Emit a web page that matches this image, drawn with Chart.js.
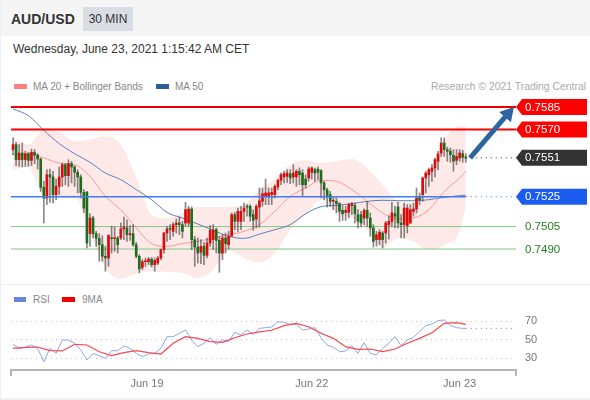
<!DOCTYPE html>
<html>
<head>
<meta charset="utf-8">
<script src="https://cdn.jsdelivr.net/npm/chart.js@4"></script>
<style>
html, body { margin: 0; padding: 0; background: #fff; }
body { width: 590px; height: 400px; position: relative; overflow: hidden; font-family: "Liberation Sans", Arial, sans-serif; }
#head { position: absolute; left: 0; top: 0; width: 590px; height: 36px; background: #f5f5f5; }
#title { position: absolute; left: 11px; top: 11px; font-size: 14px; font-weight: bold; color: #333; }
#badge { position: absolute; left: 83px; top: 7px; width: 50px; height: 24px; line-height: 24px; text-align: center; background: #d9dde4; font-size: 12px; color: #333; }
#date { position: absolute; left: 13px; top: 42px; font-size: 12px; color: #333; }
.leg { position: absolute; font-size: 10px; line-height: 12px; color: #888; }
.box { position: absolute; height: 5px; }
#sep { position: absolute; left: 0; top: 284px; width: 590px; height: 1px; background: #eee; }
#edgeL { position: absolute; left: 0; top: 0; width: 1px; height: 400px; background: #eef0f3; }
#edgeB { position: absolute; left: 0; top: 398px; width: 590px; height: 2px; background: #eef0f3; }
canvas { position: absolute; left: 0; }
#priceChart { top: 92px; }
#rsiChart { top: 310px; }
</style>
</head>
<body>
<div id="head"></div>
<div id="edgeL"></div>
<div id="edgeB"></div>
<div id="title">AUD/USD</div>
<div id="badge">30 MIN</div>
<div id="date">Wednesday, June 23, 2021 1:15:42 AM CET</div>
<div class="box" style="left:14px;top:84px;width:13px;background:#ff8080"></div>
<div class="leg" style="left:33px;top:81px">MA 20 + Bollinger Bands</div>
<div class="box" style="left:156px;top:84px;width:13px;background:#2e5c9a"></div>
<div class="leg" style="left:175px;top:81px">MA 50</div>
<div class="leg" style="right:4px;top:81px;color:#aaa;font-size:10.4px">Research © 2021 Trading Central</div>
<div id="sep"></div>
<div class="box" style="left:14px;top:297px;width:12px;background:#6a85e0"></div>
<div class="leg" style="left:33px;top:294px">RSI</div>
<div class="box" style="left:62px;top:297px;width:13px;background:#f00000"></div>
<div class="leg" style="left:82px;top:294px">9MA</div>
<canvas id="priceChart" width="590" height="191"></canvas>
<canvas id="rsiChart" width="590" height="88"></canvas>
<script>
var opens = [0.75565,0.75598,0.75498,0.75542,0.75498,0.75538,0.75493,0.75547,0.75529,0.75502,0.75313,0.75241,0.75397,0.75382,0.75264,0.75319,0.75382,0.75464,0.75391,0.75471,0.75449,0.75413,0.75382,0.75279,0.75281,0.75003,0.75107,0.75003,0.74971,0.74929,0.74851,0.74840,0.74974,0.74969,0.74974,0.74974,0.75034,0.75041,0.74996,0.75003,0.74929,0.74851,0.74777,0.74815,0.74815,0.74833,0.74795,0.74806,0.74840,0.74896,0.75007,0.75034,0.75018,0.75063,0.75074,0.75063,0.75074,0.75074,0.75168,0.74963,0.74913,0.74878,0.74918,0.74858,0.74940,0.74963,0.75029,0.74958,0.74873,0.74974,0.74929,0.74985,0.75130,0.75085,0.75085,0.75152,0.75186,0.75186,0.75130,0.75101,0.75181,0.75219,0.75252,0.75257,0.75264,0.75264,0.75315,0.75359,0.75382,0.75386,0.75404,0.75382,0.75382,0.75420,0.75408,0.75368,0.75375,0.75413,0.75431,0.75435,0.75424,0.75342,0.75297,0.75264,0.75219,0.75219,0.75203,0.75159,0.75145,0.75145,0.75190,0.75192,0.75130,0.75130,0.75107,0.75159,0.75107,0.75041,0.74963,0.74963,0.75007,0.75007,0.75063,0.75085,0.75136,0.75181,0.75074,0.75063,0.75056,0.75074,0.75152,0.75168,0.75252,0.75264,0.75375,0.75397,0.75420,0.75442,0.75487,0.75542,0.75609,0.75565,0.75554,0.75527,0.75493,0.75509,0.75538,0.75516];
var closes = [0.75598,0.75498,0.75542,0.75498,0.75538,0.75493,0.75547,0.75529,0.75502,0.75313,0.75241,0.75397,0.75382,0.75264,0.75319,0.75382,0.75464,0.75391,0.75471,0.75449,0.75413,0.75382,0.75279,0.75174,0.74940,0.75107,0.75003,0.74971,0.74929,0.74851,0.74840,0.74991,0.74969,0.74974,0.74929,0.75034,0.75047,0.74996,0.75003,0.74929,0.74851,0.74766,0.74815,0.74817,0.74833,0.74795,0.74824,0.74840,0.74896,0.75007,0.75034,0.75032,0.75063,0.75074,0.75063,0.75018,0.75163,0.75168,0.74963,0.74913,0.74873,0.74918,0.74858,0.74940,0.75025,0.75029,0.74958,0.74873,0.74974,0.74936,0.74985,0.75130,0.75085,0.75152,0.75152,0.75174,0.75181,0.75119,0.75092,0.75186,0.75223,0.75270,0.75275,0.75275,0.75279,0.75319,0.75359,0.75397,0.75404,0.75408,0.75375,0.75408,0.75420,0.75397,0.75330,0.75330,0.75435,0.75442,0.75408,0.75413,0.75342,0.75297,0.75248,0.75219,0.75223,0.75203,0.75152,0.75136,0.75159,0.75197,0.75201,0.75136,0.75085,0.75074,0.75159,0.75107,0.75041,0.74951,0.74996,0.75012,0.74963,0.75074,0.75085,0.75141,0.75119,0.75074,0.75063,0.75174,0.75174,0.75163,0.75168,0.75241,0.75230,0.75375,0.75408,0.75431,0.75442,0.75498,0.75536,0.75609,0.75565,0.75554,0.75531,0.75487,0.75520,0.75542,0.75513,0.75509];
var highs = [0.75643,0.75614,0.75598,0.75609,0.75554,0.75547,0.75569,0.75565,0.75538,0.75509,0.75353,0.75431,0.75435,0.75420,0.75368,0.75449,0.75475,0.75471,0.75498,0.75487,0.75458,0.75431,0.75397,0.75297,0.75286,0.75136,0.75119,0.75018,0.75003,0.74989,0.74918,0.74996,0.75052,0.75047,0.74985,0.75074,0.75114,0.75096,0.75056,0.75063,0.74945,0.74862,0.74829,0.74840,0.74844,0.74842,0.74840,0.74851,0.74900,0.75012,0.75052,0.75063,0.75078,0.75101,0.75114,0.75085,0.75212,0.75186,0.75181,0.74985,0.74974,0.74963,0.74945,0.74974,0.75056,0.75063,0.75041,0.74985,0.74996,0.75007,0.75018,0.75141,0.75145,0.75174,0.75186,0.75208,0.75197,0.75197,0.75163,0.75197,0.75308,0.75308,0.75368,0.75308,0.75308,0.75330,0.75368,0.75408,0.75420,0.75431,0.75431,0.75464,0.75431,0.75442,0.75431,0.75397,0.75449,0.75449,0.75442,0.75449,0.75431,0.75353,0.75308,0.75286,0.75252,0.75241,0.75212,0.75190,0.75186,0.75208,0.75212,0.75208,0.75163,0.75152,0.75168,0.75219,0.75141,0.75063,0.75018,0.75029,0.75018,0.75085,0.75123,0.75212,0.75186,0.75212,0.75130,0.75208,0.75197,0.75197,0.75208,0.75308,0.75275,0.75382,0.75420,0.75442,0.75464,0.75509,0.75554,0.75643,0.75643,0.75582,0.75576,0.75565,0.75565,0.75565,0.75560,0.75538];
var lows = [0.75531,0.75458,0.75453,0.75449,0.75453,0.75453,0.75458,0.75471,0.75435,0.75286,0.75074,0.75197,0.75212,0.75208,0.75230,0.75264,0.75319,0.75330,0.75319,0.75342,0.75319,0.75275,0.75241,0.75145,0.74907,0.74918,0.74974,0.74918,0.74818,0.74818,0.74751,0.74784,0.74873,0.74884,0.74873,0.74963,0.74963,0.74951,0.74958,0.74918,0.74840,0.74740,0.74762,0.74784,0.74795,0.74780,0.74751,0.74795,0.74829,0.74873,0.74951,0.74963,0.74985,0.75007,0.74996,0.74974,0.75052,0.75052,0.74896,0.74784,0.74806,0.74802,0.74795,0.74840,0.74918,0.74896,0.74873,0.74744,0.74829,0.74873,0.74900,0.74985,0.75029,0.75018,0.75029,0.75085,0.75119,0.75085,0.75025,0.75041,0.75047,0.75186,0.75197,0.75197,0.75197,0.75241,0.75297,0.75330,0.75342,0.75346,0.75337,0.75342,0.75319,0.75330,0.75257,0.75308,0.75353,0.75368,0.75353,0.75364,0.75241,0.75230,0.75181,0.75186,0.75163,0.75141,0.75085,0.75092,0.75092,0.75107,0.75130,0.75074,0.75041,0.75047,0.75063,0.75052,0.74985,0.74913,0.74918,0.74929,0.74907,0.74940,0.74967,0.75052,0.75041,0.75041,0.74974,0.74974,0.75007,0.75070,0.75119,0.75141,0.75197,0.75219,0.75275,0.75319,0.75353,0.75382,0.75431,0.75520,0.75520,0.75487,0.75480,0.75420,0.75464,0.75487,0.75480,0.75480];
// moving averages and bands, read every 5 bars plus the last one
var lineIdx = [0,5,10,15,20,25,30,35,40,45,50,55,60,65,70,75,80,85,90,95,100,105,110,115,120,125,130,135,140,145,147];
var ma50 = [0.75837,0.75792,0.75694,0.75605,0.75538,0.75480,0.75408,0.75364,0.75297,0.75230,0.75145,0.75107,0.75067,0.75025,0.74985,0.74971,0.75000,0.75029,0.75063,0.75136,0.75183,0.75192,0.75203,0.75219,0.75226,0.75223,0.75223,0.75230,0.75246,0.75257,0.75261];
var ma20 = [0.75531,0.75531,0.75509,0.75475,0.75464,0.75386,0.75252,0.75163,0.75041,0.74936,0.74918,0.74936,0.74951,0.74974,0.74996,0.75018,0.75063,0.75152,0.75252,0.75308,0.75359,0.75353,0.75297,0.75219,0.75141,0.75101,0.75107,0.75163,0.75286,0.75375,0.75420];
var bandUp = [0.75647,0.75598,0.75698,0.75681,0.75620,0.75632,0.75654,0.75598,0.75382,0.75130,0.75107,0.75141,0.75181,0.75181,0.75181,0.75197,0.75297,0.75368,0.75464,0.75493,0.75475,0.75487,0.75502,0.75442,0.75330,0.75219,0.75208,0.75408,0.75632,0.75721,0.75721];
var bandLow = [0.75431,0.75449,0.75252,0.75241,0.75241,0.75007,0.74773,0.74699,0.74735,0.74751,0.74746,0.74740,0.74706,0.74762,0.74891,0.74840,0.74811,0.74873,0.75029,0.75130,0.75226,0.75141,0.75107,0.75029,0.74907,0.74974,0.74951,0.74891,0.74929,0.75018,0.75186];
var lastPrice = 0.7551;
var redLevels = [0.7585,0.7570];
var blueLevel = 0.7525;
var greenLevels = [0.7505,0.7490];
// rsi read every 2 bars, 9MA every 4 bars
var rsiIdx = [0,2,4,6,8,10,12,14,16,18,20,22,24,26,28,30,32,34,36,38,40,42,44,46,48,50,52,54,56,58,60,62,64,66,68,70,72,74,76,78,80,82,84,86,88,90,92,94,96,98,100,102,104,106,108,110,112,114,116,118,120,122,124,126,128,130,132,134,136,138,140,142,144,146,147];
var rsi = [45,40.7,41.8,44.3,40.7,26.4,40.7,35.4,49.6,49.6,46.1,38.9,28.2,35.4,32.9,30,38.2,38.2,43.2,40.7,35.4,31.8,34.6,35.4,40.7,53.2,53.2,56.8,60.4,49.6,42.5,46.1,52.1,45,49.6,47.9,57.9,55,60.4,55.7,62.1,62.9,63.6,69.3,68.6,66.4,66.4,60.4,61.4,62.9,52.1,44.3,41.8,37.1,37.9,43.6,35.4,46.8,35.4,33.6,40.7,46.1,53.2,43.6,49.6,52.5,58.6,65,66.8,70.4,71.1,65,62.9,62.1,62.1];
var maIdx = [0,4,8,12,16,20,24,28,32,36,40,44,48,52,56,60,64,68,72,76,80,84,88,92,96,100,104,108,112,116,120,124,128,132,136,140,144,147];
var rsiMa = [40.7,41.8,42.1,38.2,37.9,45,44.3,37.1,32.9,36.1,38.2,36.1,34.6,46.1,53.2,51.4,47.9,47.1,52.1,56.1,58.3,60.1,65,67.5,63.9,56.8,51.4,42.5,39.6,40,37.1,40,46.1,51.4,57.5,67.5,68.2,66.4];
var rsiTicks = [30,50,70];
var dateLabels = ["Jun 19","Jun 22","Jun 23"];
var dateIdx = [43.5,97,145];

var xMin = -0.65;
var xMax = 163.3;
var bars = closes.map(function (c, i) { return i; });

function pairs(idx, vals) {
    return idx.map(function (x, i) { return {x: x, y: vals[i]}; });
}
function level(y, from) {
    return [{x: from, y: y}, {x: xMax, y: y}];
}
function lineSet(data, color, width, order, extra) {
    return Object.assign({type: 'line', data: data, borderColor: color, borderWidth: width, pointRadius: 0, order: order, tension: 0}, extra || {});
}

// price tags on the right hand side
var tags = [
    {value: redLevels[0], color: '#ff0000'},
    {value: redLevels[1], color: '#ff0000'},
    {value: lastPrice, color: '#333333'},
    {value: blueLevel, color: '#1a5cf0'},
    {value: greenLevels[0], color: null},
    {value: greenLevels[1], color: null}
];
var tagPlugin = {
    id: 'tags',
    afterDraw: function (chart) {
        var ctx = chart.ctx;
        var left = chart.chartArea.right;
        ctx.save();
        ctx.font = '11.5px "Liberation Sans"';
        ctx.textBaseline = 'middle';
        tags.forEach(function (t) {
            var y = chart.scales.y.getPixelForValue(t.value);
            if (t.color) {
                ctx.fillStyle = t.color;
                ctx.beginPath();
                ctx.moveTo(left, y);
                ctx.lineTo(left + 6, y - 8);
                ctx.lineTo(587, y - 8);
                ctx.lineTo(587, y + 8);
                ctx.lineTo(left + 6, y + 8);
                ctx.closePath();
                ctx.fill();
            }
            ctx.fillStyle = t.color ? '#ffffff' : '#1f7f1f';
            ctx.fillText(t.value.toFixed(4), 525, y + 0.5);
        });
        ctx.restore();
    }
};

var priceChart = new Chart(document.getElementById('priceChart'), {
    type: 'bar',
    data: {
        datasets: [
            lineSet(pairs(lineIdx, bandUp), 'rgba(0,0,0,0)', 0, 20, {fill: '+1', backgroundColor: 'rgba(253,215,215,0.55)', cubicInterpolationMode: 'monotone'}),
            lineSet(pairs(lineIdx, bandLow), 'rgba(0,0,0,0)', 0, 20, {cubicInterpolationMode: 'monotone'}),
            lineSet(level(greenLevels[0], xMin), '#82c882', 1, 19),
            lineSet(level(greenLevels[1], xMin), '#82c882', 1, 19),
            lineSet(pairs(lineIdx, ma20), 'rgba(255,130,130,0.8)', 1, 18, {cubicInterpolationMode: 'monotone'}),
            lineSet(pairs(lineIdx, ma50), '#5b80b8', 1, 18, {cubicInterpolationMode: 'monotone'}),
            {
                data: bars.map(function (i) { return {x: i, y: [lows[i], highs[i]]}; }),
                backgroundColor: 'rgba(70,60,60,0.62)',
                barThickness: 1,
                grouped: false,
                order: 10
            },
            {
                data: bars.map(function (i) { return {x: i, y: [opens[i], closes[i]]}; }),
                backgroundColor: bars.map(function (i) { return closes[i] >= opens[i] ? '#dd0a0a' : '#1c6e1c'; }),
                barThickness: 2,
                minBarLength: 1,
                grouped: false,
                order: 9
            },
            lineSet(level(redLevels[0], xMin), '#f00000', 2, 5),
            lineSet(level(redLevels[1], xMin), '#ff0000', 2, 5),
            lineSet([{x: xMin, y: blueLevel}, {x: 147, y: blueLevel}], '#3f7df0', 1.5, 5),
            lineSet(level(blueLevel, 147), '#3f7df0', 1, 5, {borderDash: [1, 4]}),
            lineSet(level(lastPrice, 147), '#333333', 1, 5, {borderDash: [1, 4]}),
            {
                type: 'line',
                data: [{x: 148.4, y: 0.7551}, {x: 160.7, y: 0.75805}],
                borderColor: '#2e649f',
                backgroundColor: '#2e649f',
                borderWidth: 5,
                pointRadius: [0, 9],
                pointStyle: 'triangle',
                pointRotation: 41,
                pointBorderWidth: 0,
                order: 1
            }
        ]
    },
    options: {
        responsive: false,
        animation: false,
        devicePixelRatio: 1,
        layout: {autoPadding: false, padding: {left: 11, right: 74, top: 0, bottom: 0}},
        plugins: {legend: {display: false}, tooltip: {enabled: false}},
        scales: {
            x: {type: 'linear', display: false, offset: false, min: xMin, max: xMax},
            y: {display: false, min: 0.746727, max: 0.759503}
        }
    },
    plugins: [tagPlugin]
});

// bracket ends of the bottom axis
var bracketPlugin = {
    id: 'bracket',
    afterDraw: function (chart) {
        var a = chart.chartArea;
        var ctx = chart.ctx;
        ctx.save();
        ctx.strokeStyle = '#b5b5b5';
        ctx.lineWidth = 2;
        ctx.beginPath();
        ctx.moveTo(a.left, a.bottom);
        ctx.lineTo(a.left, a.bottom + 6);
        ctx.moveTo(a.right, a.bottom);
        ctx.lineTo(a.right, a.bottom + 6);
        ctx.stroke();
        ctx.restore();
    }
};

var rsiChart = new Chart(document.getElementById('rsiChart'), {
    type: 'line',
    data: {
        datasets: [
            lineSet(pairs(rsiIdx, rsi), '#8ea6ea', 1, 3),
            lineSet(pairs(maIdx, rsiMa), '#f8474f', 1.2, 2),
            lineSet(level(rsi[rsi.length - 1], 147), '#5f7fe6', 1, 3, {borderDash: [1, 4]})
        ]
    },
    options: {
        responsive: false,
        animation: false,
        devicePixelRatio: 1,
        layout: {autoPadding: false, padding: {left: 11, right: 0, top: 0, bottom: 0}},
        plugins: {legend: {display: false}, tooltip: {enabled: false}},
        scales: {
            x: {
                type: 'linear',
                min: xMin,
                max: xMax,
                grid: {display: false, drawTicks: false},
                border: {color: '#b5b5b5', width: 2},
                afterBuildTicks: function (axis) {
                    axis.ticks = dateIdx.map(function (v) { return {value: v}; });
                },
                afterFit: function (axis) {
                    axis.height = 28;
                    axis.paddingLeft = 0;
                    axis.paddingRight = 0;
                },
                ticks: {
                    autoSkip: false,
                    maxRotation: 0,
                    padding: 7,
                    color: '#777',
                    font: {family: 'Liberation Sans', size: 11},
                    callback: function (v) { return dateLabels[dateIdx.indexOf(v)]; }
                }
            },
            y: {
                position: 'right',
                min: 17.5,
                max: 81.8,
                grid: {color: '#c4c4c4', drawTicks: false},
                border: {display: false, dash: [1, 4]},
                afterBuildTicks: function (axis) {
                    axis.ticks = rsiTicks.map(function (v) { return {value: v}; });
                },
                afterFit: function (axis) {
                    axis.width = 74;
                    axis.paddingTop = 0;
                    axis.paddingBottom = 0;
                },
                ticks: {padding: 9, color: '#777', font: {family: 'Liberation Sans', size: 11}}
            }
        }
    },
    plugins: [bracketPlugin]
});
</script>
</body>
</html>
